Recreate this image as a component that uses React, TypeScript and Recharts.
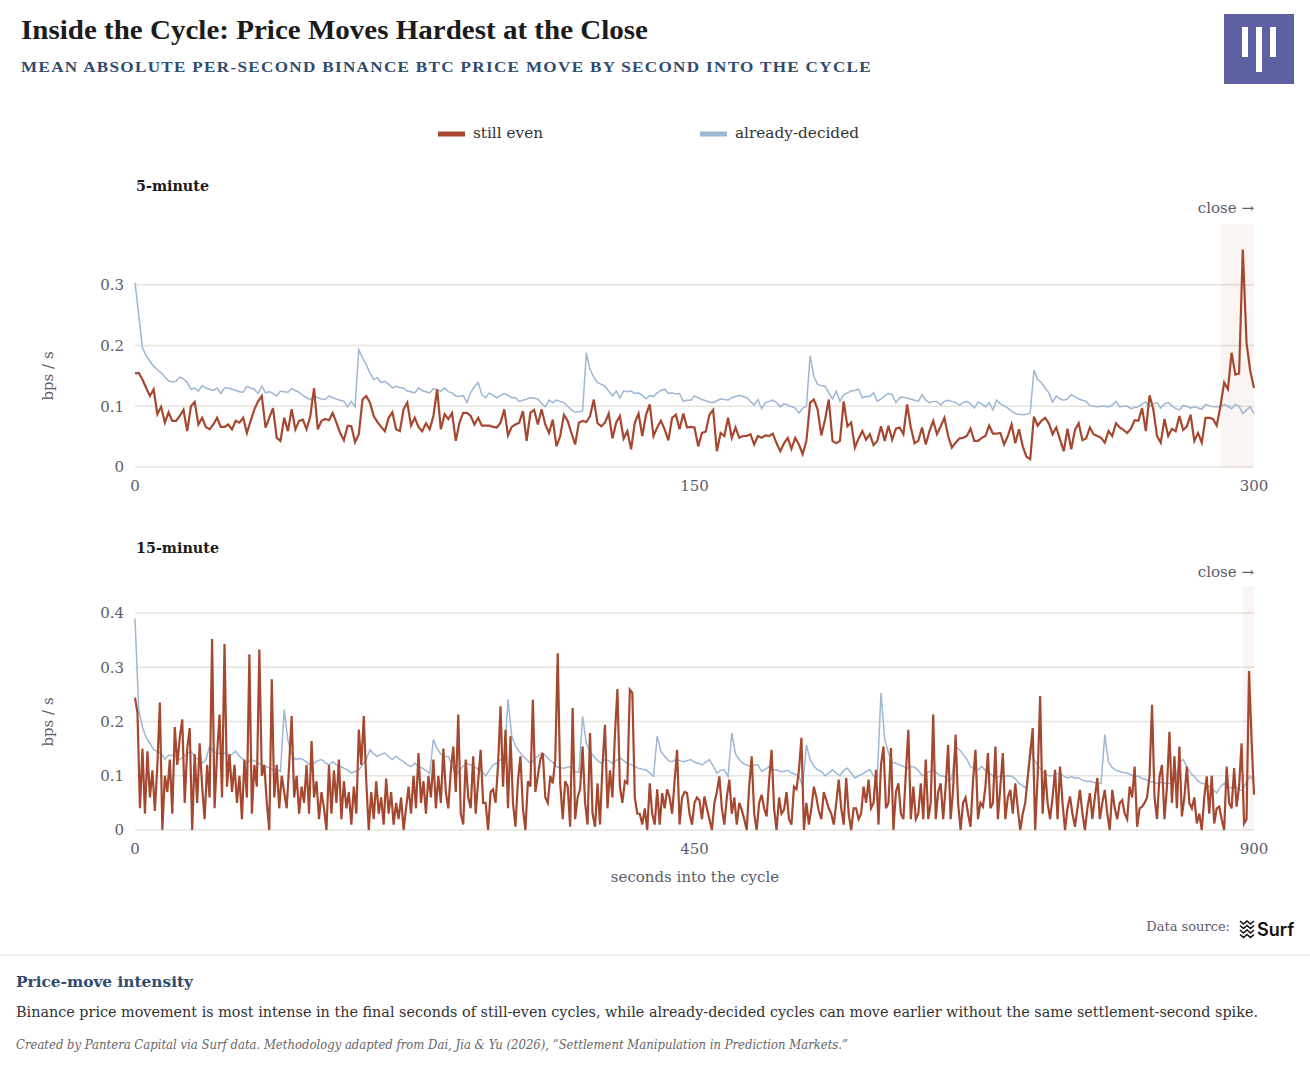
import { CartesianGrid, Line, LineChart, ReferenceArea, XAxis, YAxis } from "recharts";

// Mean absolute per-second price move (bps / s), one value per second, 0..300
const STILL_EVEN_5M = [
  0.154, 0.155, 0.144, 0.13, 0.117, 0.128, 0.087, 0.099, 0.073, 0.09,
  0.076, 0.076, 0.084, 0.094, 0.059, 0.1, 0.107, 0.07, 0.081, 0.066,
  0.062, 0.07, 0.081, 0.066, 0.066, 0.07, 0.062, 0.076, 0.073, 0.081,
  0.056, 0.076, 0.095, 0.108, 0.117, 0.065, 0.081, 0.097, 0.048, 0.043,
  0.081, 0.059, 0.095, 0.062, 0.076, 0.078, 0.062, 0.084, 0.13, 0.062,
  0.076, 0.079, 0.077, 0.089, 0.073, 0.056, 0.044, 0.068, 0.067, 0.041,
  0.054, 0.111, 0.117, 0.106, 0.084, 0.074, 0.066, 0.059, 0.081, 0.09,
  0.062, 0.059, 0.095, 0.106, 0.068, 0.081, 0.066, 0.059, 0.072, 0.062,
  0.084, 0.128, 0.062, 0.087, 0.079, 0.089, 0.043, 0.073, 0.089, 0.089,
  0.084, 0.07, 0.081, 0.068, 0.068, 0.068, 0.066, 0.065, 0.073, 0.095,
  0.052, 0.066, 0.07, 0.073, 0.092, 0.043, 0.089, 0.094, 0.07, 0.095,
  0.07, 0.056, 0.078, 0.034, 0.051, 0.086, 0.076, 0.056, 0.037, 0.073,
  0.076, 0.074, 0.084, 0.111, 0.072, 0.067, 0.073, 0.088, 0.047, 0.073,
  0.084, 0.047, 0.059, 0.029, 0.073, 0.088, 0.051, 0.086, 0.103, 0.051,
  0.065, 0.076, 0.062, 0.044, 0.081, 0.086, 0.062, 0.088, 0.065, 0.066,
  0.065, 0.034, 0.056, 0.058, 0.086, 0.094, 0.026, 0.056, 0.051, 0.081,
  0.048, 0.065, 0.048, 0.051, 0.051, 0.054, 0.037, 0.051, 0.048, 0.052,
  0.051, 0.055, 0.039, 0.026, 0.039, 0.048, 0.03, 0.048, 0.037, 0.021,
  0.043, 0.106, 0.111, 0.095, 0.052, 0.078, 0.111, 0.043, 0.039, 0.043,
  0.108, 0.067, 0.073, 0.032, 0.047, 0.059, 0.045, 0.054, 0.036, 0.043,
  0.067, 0.043, 0.068, 0.045, 0.063, 0.065, 0.054, 0.103, 0.065, 0.039,
  0.043, 0.065, 0.037, 0.059, 0.076, 0.054, 0.067, 0.081, 0.051, 0.032,
  0.04, 0.047, 0.048, 0.051, 0.063, 0.043, 0.043, 0.048, 0.051, 0.068,
  0.055, 0.055, 0.056, 0.037, 0.051, 0.07, 0.039, 0.062, 0.034, 0.017,
  0.013, 0.083, 0.068, 0.076, 0.081, 0.072, 0.054, 0.065, 0.045, 0.026,
  0.063, 0.029, 0.061, 0.072, 0.044, 0.047, 0.065, 0.054, 0.051, 0.048,
  0.04, 0.059, 0.051, 0.072, 0.065, 0.061, 0.056, 0.063, 0.077, 0.076,
  0.097, 0.059, 0.118, 0.095, 0.051, 0.04, 0.079, 0.051, 0.063, 0.059,
  0.084, 0.061, 0.067, 0.086, 0.043, 0.056, 0.04, 0.081, 0.081, 0.079,
  0.068, 0.1, 0.139, 0.128, 0.188, 0.152, 0.154, 0.358, 0.204, 0.158,
  0.13,
];

const DECIDED_5M = [
  0.303, 0.25, 0.196, 0.183, 0.174, 0.166, 0.16, 0.155, 0.148, 0.142,
  0.14, 0.141, 0.148, 0.145, 0.139, 0.128, 0.13, 0.125, 0.134, 0.13,
  0.128, 0.126, 0.13, 0.121, 0.13, 0.13, 0.128, 0.126, 0.124, 0.123,
  0.133, 0.13, 0.128, 0.121, 0.133, 0.122, 0.124, 0.121, 0.117, 0.125,
  0.124, 0.123, 0.129, 0.126, 0.123, 0.118, 0.114, 0.111, 0.117, 0.114,
  0.112, 0.111, 0.117, 0.114, 0.112, 0.11, 0.108, 0.099, 0.108, 0.099,
  0.193, 0.18, 0.168, 0.155, 0.144, 0.147, 0.139, 0.141, 0.136, 0.13,
  0.133, 0.131, 0.13, 0.125, 0.124, 0.122, 0.13, 0.126, 0.124, 0.122,
  0.129, 0.127, 0.125, 0.13, 0.124, 0.122, 0.117, 0.116, 0.118, 0.106,
  0.123, 0.132, 0.139, 0.119, 0.114, 0.122, 0.118, 0.114, 0.118, 0.121,
  0.118, 0.114, 0.114, 0.108, 0.11, 0.112, 0.114, 0.113, 0.112, 0.105,
  0.099, 0.11, 0.106, 0.11, 0.108, 0.106, 0.1, 0.094, 0.09, 0.091,
  0.092, 0.188, 0.16, 0.148, 0.139, 0.136, 0.133, 0.125, 0.117, 0.125,
  0.114, 0.125, 0.124, 0.125, 0.121, 0.122, 0.118, 0.112, 0.118, 0.116,
  0.122, 0.126, 0.128, 0.121, 0.122, 0.12, 0.121, 0.108, 0.11, 0.11,
  0.117, 0.114, 0.111, 0.109, 0.107, 0.106, 0.109, 0.112, 0.111, 0.11,
  0.114, 0.116, 0.118, 0.116, 0.114, 0.108, 0.102, 0.111, 0.096, 0.106,
  0.108, 0.11, 0.106, 0.099, 0.104, 0.102, 0.099, 0.097, 0.089, 0.097,
  0.1, 0.183, 0.149, 0.136, 0.134, 0.133, 0.122, 0.112, 0.125, 0.108,
  0.119, 0.122, 0.125, 0.126, 0.128, 0.114, 0.116, 0.116, 0.122, 0.108,
  0.112, 0.117, 0.121, 0.119, 0.106, 0.114, 0.115, 0.113, 0.112, 0.11,
  0.108, 0.119, 0.11, 0.106, 0.108, 0.108, 0.102, 0.108, 0.11, 0.108,
  0.106, 0.102, 0.106, 0.108, 0.104, 0.097, 0.107, 0.104, 0.099, 0.106,
  0.094, 0.11, 0.104, 0.101, 0.097, 0.092, 0.088, 0.087, 0.086, 0.087,
  0.089, 0.159, 0.144, 0.139, 0.13, 0.122, 0.107, 0.117, 0.112, 0.11,
  0.112, 0.119, 0.116, 0.112, 0.11, 0.108, 0.101, 0.1, 0.099, 0.1,
  0.1, 0.099, 0.102, 0.108, 0.099, 0.1, 0.1, 0.096, 0.098, 0.099,
  0.104, 0.107, 0.1, 0.104, 0.106, 0.097, 0.104, 0.106, 0.101, 0.096,
  0.094, 0.101, 0.1, 0.097, 0.099, 0.097, 0.095, 0.103, 0.101, 0.099,
  0.099, 0.099, 0.103, 0.1, 0.096, 0.103, 0.1, 0.088, 0.094, 0.099,
  0.088,
];

// 15-minute cycle: still-even read every 2 s, already-decided every 3 s
const STILL_EVEN_15M = [
  0.244, 0.216, 0.04, 0.15, 0.03, 0.145, 0.06, 0.11, 0.035, 0.12,
  0.235, 0, 0.1, 0.07, 0.13, 0.03, 0.19, 0.12, 0.17, 0.204,
  0.05, 0.15, 0.188, 0, 0.14, 0.05, 0.16, 0.08, 0.02, 0.12,
  0.06, 0.352, 0.04, 0.14, 0.213, 0.06, 0.343, 0.08, 0.14, 0.07,
  0.12, 0.05, 0.1, 0.02, 0.13, 0.06, 0.324, 0.03, 0.12, 0.08,
  0.333, 0.1, 0.12, 0.05, 0, 0.278, 0.06, 0.12, 0.04, 0.1,
  0.07, 0.04, 0.12, 0.21, 0.06, 0.1, 0.03, 0.08, 0.05, 0.12,
  0.03, 0.164, 0.06, 0.09, 0.02, 0.07, 0.04, 0, 0.12, 0.03,
  0.11, 0.05, 0.13, 0.02, 0.09, 0.04, 0.07, 0.01, 0.08, 0.03,
  0.185, 0.12, 0.21, 0.09, 0, 0.07, 0.02, 0.09, 0.03, 0.06,
  0.01, 0.095, 0.03, 0.07, 0.01, 0.05, 0.02, 0.06, 0, 0.04,
  0.08, 0.03, 0.1, 0.04, 0.142, 0.05, 0.09, 0.03, 0.1, 0.06,
  0.13, 0.04, 0.1, 0.05, 0.15, 0.07, 0.04, 0.11, 0.154, 0.07,
  0.213, 0.03, 0.01, 0.13, 0.06, 0.04, 0.136, 0.03, 0.09, 0.148,
  0.05, 0.05, 0, 0.07, 0.075, 0.05, 0.12, 0.228, 0.08, 0.185,
  0.04, 0.173, 0.05, 0.006, 0.09, 0.136, 0.04, 0, 0.09, 0.08,
  0.24, 0.07, 0.1, 0.13, 0.142, 0.06, 0.05, 0.1, 0.086, 0.13,
  0.326, 0.086, 0.02, 0.09, 0.08, 0.006, 0.225, 0.02, 0.06, 0.075,
  0.154, 0.05, 0.01, 0.179, 0.03, 0.006, 0.086, 0.01, 0.12, 0.194,
  0.04, 0.11, 0.06, 0.176, 0.26, 0.08, 0.05, 0.09, 0.086, 0.259,
  0.253, 0.06, 0.03, 0.03, 0.01, 0.04, 0, 0.086, 0.03, 0.01,
  0.075, 0.01, 0.068, 0.04, 0.075, 0.06, 0.03, 0.09, 0.148, 0.01,
  0.06, 0.07, 0.068, 0.03, 0.01, 0.05, 0.06, 0.055, 0.02, 0.062,
  0.04, 0.02, 0, 0.05, 0.07, 0.099, 0.04, 0.01, 0.06, 0.093,
  0.03, 0.06, 0.01, 0.05, 0.037, 0.02, 0, 0.08, 0.136, 0.03,
  0, 0.05, 0.065, 0.04, 0.025, 0.09, 0.148, 0.04, 0, 0.06,
  0.03, 0.037, 0.07, 0.02, 0.01, 0.08, 0.075, 0.11, 0.17, 0,
  0.05, 0.01, 0.04, 0.08, 0.06, 0.035, 0.02, 0.07, 0.055, 0.04,
  0.03, 0.01, 0.05, 0.093, 0.04, 0.01, 0.096, 0.03, 0, 0.04,
  0.04, 0.02, 0.03, 0.08, 0.05, 0.093, 0.04, 0.05, 0.111, 0.01,
  0.12, 0.154, 0.04, 0.05, 0.151, 0, 0.07, 0.086, 0.03, 0.02,
  0.105, 0.185, 0.02, 0.08, 0.02, 0.03, 0.086, 0.02, 0.13, 0.02,
  0.05, 0.213, 0.02, 0.07, 0.086, 0.02, 0.08, 0.157, 0.02, 0.075,
  0.176, 0.05, 0, 0.05, 0.06, 0.03, 0.006, 0.09, 0.148, 0.02,
  0.05, 0.043, 0.08, 0.142, 0.04, 0.05, 0.154, 0.02, 0.08, 0.142,
  0.02, 0.06, 0.074, 0.03, 0.086, 0.04, 0, 0.03, 0.05, 0.096,
  0.14, 0.188, 0, 0.1, 0.247, 0.03, 0.111, 0.05, 0.02, 0.06,
  0.111, 0.02, 0.117, 0.05, 0, 0.04, 0.062, 0.03, 0.006, 0.04,
  0.074, 0.03, 0, 0.04, 0.068, 0.02, 0.06, 0.096, 0.02, 0.05,
  0.074, 0.03, 0, 0.074, 0.04, 0.02, 0.05, 0.055, 0.03, 0.02,
  0.08, 0.06, 0.117, 0.006, 0.04, 0.043, 0.05, 0.06, 0.1, 0.231,
  0.06, 0.02, 0.099, 0.12, 0.02, 0.08, 0.181, 0.05, 0.136, 0.04,
  0.154, 0.025, 0.06, 0.117, 0.05, 0.04, 0.06, 0.012, 0.03, 0,
  0.06, 0.099, 0.03, 0.1, 0.012, 0.04, 0.043, 0.02, 0, 0.117,
  0.05, 0.04, 0.114, 0.043, 0.08, 0.16, 0.012, 0.02, 0.293, 0.167,
  0.065,
];

const DECIDED_15M = [
  0.39, 0.222, 0.19, 0.17, 0.16, 0.148, 0.145, 0.142, 0.13, 0.138,
  0.138, 0.135, 0.13, 0.136, 0.14, 0.145, 0.135, 0.13, 0.123, 0.13,
  0.154, 0.145, 0.142, 0.14, 0.142, 0.136, 0.14, 0.145, 0.136, 0.13,
  0.123, 0.13, 0.128, 0.123, 0.12, 0.117, 0.115, 0.111, 0.112, 0.108,
  0.222, 0.165, 0.14, 0.13, 0.132, 0.13, 0.125, 0.12, 0.123, 0.128,
  0.13, 0.124, 0.12, 0.126, 0.12, 0.117, 0.114, 0.111, 0.105, 0.108,
  0.111, 0.12, 0.13, 0.148, 0.14, 0.136, 0.14, 0.142, 0.135, 0.13,
  0.136, 0.13, 0.126, 0.12, 0.117, 0.123, 0.118, 0.114, 0.11, 0.104,
  0.167, 0.15, 0.14, 0.136, 0.135, 0.12, 0.1, 0.11, 0.118, 0.123,
  0.12, 0.117, 0.112, 0.108, 0.1, 0.11, 0.12, 0.123, 0.13, 0.128,
  0.241, 0.173, 0.155, 0.145, 0.136, 0.13, 0.123, 0.13, 0.136, 0.142,
  0.138, 0.13, 0.125, 0.117, 0.115, 0.114, 0.116, 0.117, 0.108, 0.106,
  0.21, 0.16, 0.145, 0.136, 0.128, 0.123, 0.13, 0.128, 0.123, 0.128,
  0.133, 0.128, 0.123, 0.12, 0.117, 0.114, 0.112, 0.111, 0.105, 0.099,
  0.173, 0.145, 0.136, 0.128, 0.126, 0.13, 0.128, 0.126, 0.128, 0.13,
  0.125, 0.123, 0.12, 0.125, 0.13, 0.118, 0.105, 0.11, 0.111, 0.099,
  0.179, 0.14, 0.13, 0.123, 0.12, 0.117, 0.12, 0.12, 0.108, 0.112,
  0.117, 0.11, 0.111, 0.108, 0.108, 0.11, 0.105, 0.103, 0.1, 0.08,
  0.157, 0.13, 0.118, 0.111, 0.108, 0.1, 0.105, 0.111, 0.105, 0.1,
  0.11, 0.114, 0.105, 0.096, 0.1, 0.103, 0.108, 0.111, 0.1, 0.096,
  0.253, 0.167, 0.142, 0.125, 0.123, 0.12, 0.117, 0.114, 0.117, 0.116,
  0.11, 0.1, 0.104, 0.108, 0.111, 0.105, 0.1, 0.099, 0.09, 0.095,
  0.154, 0.148, 0.14, 0.13, 0.117, 0.113, 0.111, 0.117, 0.11, 0.105,
  0.1, 0.096, 0.1, 0.099, 0.1, 0.099, 0.095, 0.086, 0.082, 0.077,
  0.154, 0.13, 0.12, 0.11, 0.104, 0.1, 0.1, 0.104, 0.105, 0.1,
  0.096, 0.098, 0.096, 0.096, 0.092, 0.09, 0.09, 0.088, 0.086, 0.086,
  0.176, 0.125, 0.115, 0.11, 0.108, 0.106, 0.105, 0.102, 0.099, 0.099,
  0.095, 0.093, 0.09, 0.088, 0.086, 0.088, 0.086, 0.086, 0.086, 0.095,
  0.125, 0.13, 0.117, 0.105, 0.099, 0.09, 0.086, 0.085, 0.08, 0.075,
  0.068, 0.08, 0.086, 0.08, 0.077, 0.08, 0.074, 0.074, 0.09, 0.099,
  0.09,
];

const STEP_5M = 1;
const STEP_EVEN_15M = 2;
const STEP_DECIDED_15M = 3;

const X_TICKS_5M = [0, 150, 300];
const X_TICKS_15M = [0, 450, 900];
const Y_TICKS_5M = [0, 0.1, 0.2, 0.3];
const Y_TICKS_15M = [0, 0.1, 0.2, 0.3, 0.4];

// final seconds before settlement, shaded
const CLOSE_5M = [291, 300];
const CLOSE_15M = [891, 900];

const RED = "#a5482f";
const BLUE = "#9db7d4";
const GRID = "#e6e4de";
const MUTED = "#5b5b6b";
const NAVY = "#2f4b6e";
const SERIF = "'DejaVu Serif', serif";
const TITLE_SERIF = "'Liberation Serif', serif";

const toRows = (values: number[], step: number) => values.map((v, i) => ({ t: i * step, v }));

const even5 = toRows(STILL_EVEN_5M, STEP_5M);
const decided5 = toRows(DECIDED_5M, STEP_5M);
const even15 = toRows(STILL_EVEN_15M, STEP_EVEN_15M);
const decided15 = toRows(DECIDED_15M, STEP_DECIDED_15M);

const tickStyle = { fontSize: 15, fill: MUTED, fontFamily: SERIF };

function Panel({
  even,
  decided,
  xMax,
  xTicks,
  yMax,
  yTicks,
  close,
  bottom,
}: {
  even: { t: number; v: number }[];
  decided: { t: number; v: number }[];
  xMax: number;
  xTicks: number[];
  yMax: number;
  yTicks: number[];
  close: number[];
  bottom: number;
}) {
  return (
    <LineChart width={1310} height={290} margin={{ top: 10, right: 56, bottom, left: 65 }}>
      <CartesianGrid vertical={false} horizontalValues={yTicks} stroke={GRID} strokeWidth={1.5} />
      <XAxis
        type="number"
        dataKey="t"
        domain={[0, xMax]}
        ticks={xTicks}
        axisLine={false}
        tickLine={false}
        tickSize={0}
        tickMargin={13}
        height={30}
        tick={tickStyle}
      />
      <YAxis
        type="number"
        domain={[0, yMax]}
        ticks={yTicks}
        axisLine={false}
        tickLine={false}
        tickSize={0}
        tickMargin={11}
        width={70}
        tick={tickStyle}
      />
      <ReferenceArea x1={close[0]} x2={close[1]} y1={0} y2={yMax} fill={RED} fillOpacity={0.06} stroke="none" />
      <Line data={decided} dataKey="v" stroke={BLUE} strokeWidth={1.5} dot={false} isAnimationActive={false} />
      <Line data={even} dataKey="v" stroke={RED} strokeWidth={2.2} dot={false} isAnimationActive={false} />
    </LineChart>
  );
}

function SurfMark() {
  const rows = [0, 1, 2, 3];
  return (
    <g stroke="#111" strokeWidth={1.6} fill="none">
      {rows.map((r) => (
        <polyline
          key={r}
          points={`1240,${921 + r * 4.5} 1243.5,${924 + r * 4.5} 1247,${921 + r * 4.5} 1250.5,${924 + r * 4.5} 1254,${921 + r * 4.5}`}
        />
      ))}
    </g>
  );
}

export default function App() {
  return (
    <div style={{ position: "absolute", left: 0, top: 0, width: 1310, height: 1070, background: "#fff", overflow: "hidden" }}>
      <div style={{ position: "absolute", left: 0, top: 214 }}>
        <Panel even={even5} decided={decided5} xMax={300} xTicks={X_TICKS_5M} yMax={0.4} yTicks={Y_TICKS_5M} close={CLOSE_5M} bottom={7} />
      </div>
      <div style={{ position: "absolute", left: 0, top: 576 }}>
        <Panel even={even15} decided={decided15} xMax={900} xTicks={X_TICKS_15M} yMax={0.45} yTicks={Y_TICKS_15M} close={CLOSE_15M} bottom={6} />
      </div>

      <svg width={1310} height={1070} style={{ position: "absolute", left: 0, top: 0, pointerEvents: "none" }}>
        <text x={21} y={39} fontFamily={TITLE_SERIF} fontWeight={700} fontSize={28} fill="#1b1b1b" textLength={627} lengthAdjust="spacingAndGlyphs">
          Inside the Cycle: Price Moves Hardest at the Close
        </text>
        <text x={21} y={72} fontFamily={TITLE_SERIF} fontWeight={700} fontSize={15.5} letterSpacing={1.2} fill={NAVY} textLength={851} lengthAdjust="spacingAndGlyphs">
          MEAN ABSOLUTE PER-SECOND BINANCE BTC PRICE MOVE BY SECOND INTO THE CYCLE
        </text>

        <rect x={1224} y={14} width={70} height={70} fill="#5d61a2" />
        <rect x={1242} y={27} width={6} height={30} fill="#fff" />
        <rect x={1256} y={27} width={6} height={45} fill="#fff" />
        <rect x={1270} y={27} width={6} height={30} fill="#fff" />

        <rect x={438} y={131.5} width={27} height={5} fill={RED} />
        <text x={473} y={138} fontFamily={SERIF} fontSize={15} fill="#333" textLength={70} lengthAdjust="spacingAndGlyphs">still even</text>
        <rect x={700} y={131.5} width={27} height={5} fill={BLUE} />
        <text x={735} y={138} fontFamily={SERIF} fontSize={15} fill="#333" textLength={124} lengthAdjust="spacingAndGlyphs">already-decided</text>

        <text x={136} y={191} fontFamily={SERIF} fontWeight={700} fontSize={15} fill="#1b1b1b" textLength={73} lengthAdjust="spacingAndGlyphs">5-minute</text>
        <text x={1254} y={213} textAnchor="end" fontFamily={SERIF} fontSize={15} fill={MUTED}>close →</text>
        <text transform="translate(53,376) rotate(-90)" textAnchor="middle" fontFamily={SERIF} fontSize={15} fill={MUTED}>bps / s</text>

        <text x={136} y={553} fontFamily={SERIF} fontWeight={700} fontSize={15} fill="#1b1b1b" textLength={83} lengthAdjust="spacingAndGlyphs">15-minute</text>
        <text x={1254} y={577} textAnchor="end" fontFamily={SERIF} fontSize={15} fill={MUTED}>close →</text>
        <text transform="translate(53,722) rotate(-90)" textAnchor="middle" fontFamily={SERIF} fontSize={15} fill={MUTED}>bps / s</text>
        <text x={695} y={882} textAnchor="middle" fontFamily={SERIF} fontSize={15} fill={MUTED}>seconds into the cycle</text>

        <text x={1230} y={931} textAnchor="end" fontFamily={SERIF} fontSize={13} fill={MUTED}>Data source:</text>
        <SurfMark />
        <text x={1257} y={936} fontFamily="Inter, sans-serif" fontWeight={600} fontSize={18} fill="#111">Surf</text>

        <line x1={0} x2={1310} y1={955} y2={955} stroke="#dddddd" strokeWidth={1} />
        <text x={16} y={987} fontFamily={SERIF} fontWeight={700} fontSize={15.5} fill={NAVY} textLength={177} lengthAdjust="spacingAndGlyphs">
          Price-move intensity
        </text>
        <text x={16} y={1017} fontFamily={SERIF} fontSize={14.5} fill="#333" textLength={1242} lengthAdjust="spacingAndGlyphs">
          Binance price movement is most intense in the final seconds of still-even cycles, while already-decided cycles can move earlier without the same settlement-second spike.
        </text>
        <text x={16} y={1049} fontFamily={SERIF} fontStyle="italic" fontSize={12.5} fill="#666" textLength={832} lengthAdjust="spacingAndGlyphs">
          Created by Pantera Capital via Surf data. Methodology adapted from Dai, Jia &amp; Yu (2026), “Settlement Manipulation in Prediction Markets.”
        </text>
      </svg>
    </div>
  );
}
